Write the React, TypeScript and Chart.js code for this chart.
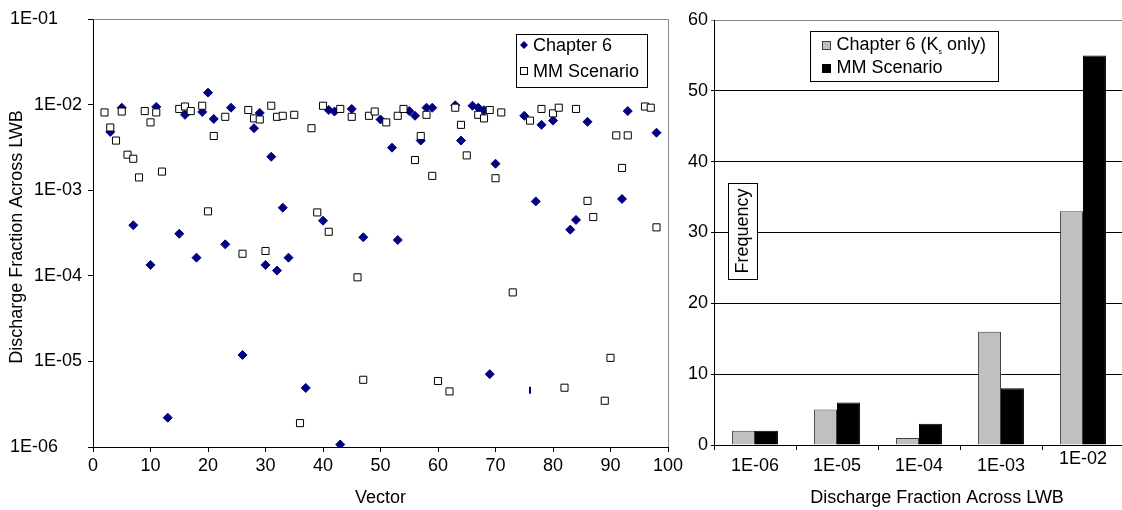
import React, { useEffect, useRef } from 'react';
import { Chart, registerables } from 'chart.js';

Chart.register(...registerables);

// ---------- Left panel: discharge fraction per vector ----------
const ch6Vectors = [3, 5, 7, 10, 11, 13, 15, 16, 18, 19, 20, 21, 23, 24, 26, 28, 29, 30, 31, 32, 33, 34, 37, 40, 41, 42, 43, 45, 47, 50, 52, 53, 55, 56, 57, 58, 59, 63, 64, 66, 67, 68, 69, 70, 75, 77, 78, 80, 83, 84, 86, 92, 93, 98];
const ch6Fractions = [4.8e-3, 9.2e-3, 3.9e-4, 1.34e-4, 9.4e-3, 2.2e-6, 3.1e-4, 7.6e-3, 1.63e-4, 8.2e-3, 1.38e-2, 6.8e-3, 2.33e-4, 9.2e-3, 1.19e-5, 5.3e-3, 8.0e-3, 1.34e-4, 2.46e-3, 1.15e-4, 6.25e-4, 1.63e-4, 4.9e-6, 4.4e-4, 8.65e-3, 8.3e-3, 1.07e-6, 8.9e-3, 2.82e-4, 6.7e-3, 3.14e-3, 2.62e-4, 8.4e-3, 7.4e-3, 3.8e-3, 9.2e-3, 9.2e-3, 9.8e-3, 3.8e-3, 9.7e-3, 9.2e-3, 8.6e-3, 7.1e-6, 2.04e-3, 7.4e-3, 7.4e-4, 5.8e-3, 6.5e-3, 3.46e-4, 4.5e-4, 6.3e-3, 7.9e-4, 8.4e-3, 4.7e-3];
// one Chapter 6 point drawn as a short vertical dash in the original
const ch6DashVectors = [76];
const ch6DashFractions = [4.6e-6];

const mmVectors = [2, 3, 4, 5, 6, 7, 8, 9, 10, 11, 12, 15, 16, 17, 19, 20, 21, 23, 26, 27, 28, 29, 30, 31, 32, 33, 35, 36, 38, 39, 40, 41, 43, 45, 46, 47, 48, 49, 51, 53, 54, 56, 57, 58, 59, 60, 62, 63, 64, 65, 67, 68, 69, 70, 71, 73, 76, 78, 80, 81, 82, 84, 86, 87, 89, 90, 91, 92, 93, 96, 97, 98];
const mmFractions = [8.1e-3, 5.4e-3, 3.8e-3, 8.3e-3, 2.6e-3, 2.33e-3, 1.41e-3, 8.4e-3, 6.2e-3, 8.1e-3, 1.65e-3, 8.9e-3, 9.5e-3, 8.4e-3, 9.7e-3, 5.66e-4, 4.3e-3, 7.2e-3, 1.81e-4, 8.65e-3, 6.9e-3, 6.7e-3, 1.95e-4, 9.7e-3, 7.2e-3, 7.4e-3, 7.6e-3, 1.9e-6, 5.3e-3, 5.5e-4, 9.7e-3, 3.27e-4, 8.9e-3, 7.2e-3, 9.6e-5, 6.1e-6, 7.4e-3, 8.3e-3, 6.2e-3, 7.4e-3, 8.9e-3, 2.25e-3, 4.3e-3, 7.6e-3, 1.47e-3, 5.9e-6, 4.46e-6, 9.2e-3, 5.8e-3, 2.55e-3, 7.6e-3, 6.9e-3, 8.65e-3, 1.38e-3, 8.1e-3, 6.4e-5, 6.5e-3, 8.9e-3, 7.9e-3, 9.2e-3, 4.93e-6, 8.9e-3, 7.5e-4, 4.86e-4, 3.47e-6, 1.1e-5, 4.37e-3, 1.82e-3, 4.37e-3, 9.5e-3, 9.2e-3, 3.68e-4];

const yTickValues = [1e-1, 1e-2, 1e-3, 1e-4, 1e-5, 1e-6];
const yTickLabels = ['1E-01', '1E-02', '1E-03', '1E-04', '1E-05', '1E-06'];
const xTickValues = [0, 10, 20, 30, 40, 50, 60, 70, 80, 90, 100];

const leftXTitle = 'Vector';
const leftYTitle = 'Discharge Fraction Across LWB';
const leftLegend = ['Chapter 6', 'MM Scenario'];

// ---------- Right panel: frequency histogram ----------
const binLabels = ['1E-06', '1E-05', '1E-04', '1E-03', '1E-02'];
const freqCh6 = [2, 5, 1, 16, 33];
const freqMM = [2, 6, 3, 8, 55];
const freqTicks = [0, 10, 20, 30, 40, 50, 60];
const rightXTitle = 'Discharge Fraction Across LWB';
const rightYTitle = 'Frequency';

const FONT = '"Liberation Sans", Arial, sans-serif';
const NAVY = '#000080';

function text(ctx: CanvasRenderingContext2D, s: string, x: number, y: number, align: CanvasTextAlign = 'center', size = 18) {
  ctx.font = `${size}px ${FONT}`;
  ctx.textAlign = align;
  ctx.textBaseline = 'middle';
  ctx.fillStyle = '#000';
  ctx.fillText(s, x, y);
}

const leftDecor = {
  id: 'leftDecor',
  afterDraw(chart: any) {
    const ctx: CanvasRenderingContext2D = chart.ctx;
    const { left, right, top, bottom } = chart.chartArea;
    const xs = chart.scales.x;
    const ys = chart.scales.y;
    ctx.save();
    // gray frame top/right
    ctx.strokeStyle = '#888';
    ctx.lineWidth = 1;
    ctx.beginPath();
    ctx.moveTo(Math.round(left) + 0.5, Math.round(top) + 0.5);
    ctx.lineTo(Math.round(right) + 0.5, Math.round(top) + 0.5);
    ctx.lineTo(Math.round(right) + 0.5, Math.round(bottom));
    ctx.stroke();
    // y tick labels
    yTickValues.forEach((v, i) => {
      const y = ys.getPixelForValue(v);
      if (i === 0 || i === yTickValues.length - 1) text(ctx, yTickLabels[i], 10, y, 'left');
      else text(ctx, yTickLabels[i], 82, y, 'right');
    });
    // x tick labels
    xTickValues.forEach((v) => {
      text(ctx, String(v), xs.getPixelForValue(v), 466, 'center');
    });
    // axis titles
    text(ctx, leftXTitle, (left + right) / 2, 498, 'center');
    ctx.save();
    ctx.translate(17, 237);
    ctx.rotate(-Math.PI / 2);
    text(ctx, leftYTitle, 0, 0, 'center');
    ctx.restore();
    // legend
    ctx.fillStyle = '#fff';
    ctx.fillRect(516, 34, 131, 53);
    ctx.strokeStyle = '#000';
    ctx.strokeRect(516.5, 34.5, 131, 53);
    ctx.fillStyle = NAVY;
    ctx.beginPath();
    ctx.moveTo(524, 41);
    ctx.lineTo(528, 45);
    ctx.lineTo(524, 49);
    ctx.lineTo(520, 45);
    ctx.closePath();
    ctx.fill();
    text(ctx, leftLegend[0], 533, 46, 'left');
    ctx.fillStyle = '#fff';
    ctx.fillRect(520.5, 67.5, 7, 7);
    ctx.strokeStyle = '#000';
    ctx.strokeRect(520.5, 67.5, 7, 7);
    text(ctx, leftLegend[1], 533, 72, 'left');
    ctx.restore();
  },
};

const rightDecor = {
  id: 'rightDecor',
  afterDraw(chart: any) {
    const ctx: CanvasRenderingContext2D = chart.ctx;
    const xs = chart.scales.x;
    const ys = chart.scales.y;
    ctx.save();
    freqTicks.forEach((v) => {
      text(ctx, String(v), 28, ys.getPixelForValue(v), 'right');
    });
    binLabels.forEach((lab, i) => {
      const y = i === binLabels.length - 1 ? 459 : 466;
      text(ctx, lab, xs.getPixelForValue(i), y, 'center');
    });
    text(ctx, rightXTitle, 257, 498, 'center');
    // Frequency box
    ctx.fillStyle = '#fff';
    ctx.fillRect(48, 183, 29, 96);
    ctx.strokeStyle = '#000';
    ctx.lineWidth = 1;
    ctx.strokeRect(48.5, 183.5, 29, 96);
    ctx.save();
    ctx.translate(63, 231);
    ctx.rotate(-Math.PI / 2);
    text(ctx, rightYTitle, 0, 0, 'center');
    ctx.restore();
    // legend
    ctx.fillStyle = '#fff';
    ctx.fillRect(130, 31, 188, 50);
    ctx.strokeStyle = '#000';
    ctx.strokeRect(130.5, 31.5, 188, 50);
    ctx.fillStyle = '#C0C0C0';
    ctx.fillRect(142.5, 41.5, 8, 8);
    ctx.strokeStyle = '#404040';
    ctx.strokeRect(142.5, 41.5, 8, 8);
    ctx.fillStyle = '#000';
    ctx.fillRect(142, 64, 9, 9);
    let x = 156.5;
    ctx.font = `18px ${FONT}`;
    text(ctx, 'Chapter 6 (K', x, 45, 'left');
    ctx.font = `18px ${FONT}`;
    x += ctx.measureText('Chapter 6 (K').width;
    text(ctx, 's', x, 52, 'left', 7);
    ctx.font = `7px ${FONT}`;
    x += ctx.measureText('s').width;
    text(ctx, ' only)', x, 45, 'left');
    text(ctx, 'MM Scenario', 156.5, 68, 'left');
    ctx.restore();
  },
};

export default function App() {
  const leftRef = useRef<HTMLCanvasElement>(null);
  const rightRef = useRef<HTMLCanvasElement>(null);

  useEffect(() => {
    const left = new Chart(leftRef.current as HTMLCanvasElement, {
      type: 'scatter',
      data: {
        datasets: [
          {
            label: 'MM Scenario',
            data: mmVectors.map((x, i) => ({ x, y: mmFractions[i] })),
            pointStyle: 'rect',
            radius: 5,
            backgroundColor: '#fff',
            borderColor: '#000',
            borderWidth: 1,
            order: 0,
          },
          {
            label: 'Chapter 6',
            data: ch6Vectors.map((x, i) => ({ x, y: ch6Fractions[i] })),
            pointStyle: 'rectRot',
            radius: 4.5,
            backgroundColor: NAVY,
            borderColor: NAVY,
            borderWidth: 1,
            order: 1,
          },
          {
            label: 'Chapter 6 dash',
            data: ch6DashVectors.map((x, i) => ({ x, y: ch6DashFractions[i] })),
            pointStyle: 'line',
            rotation: 90,
            radius: 3.5,
            backgroundColor: NAVY,
            borderColor: NAVY,
            borderWidth: 2,
            order: 1,
          },
        ] as any,
      },
      options: {
        animation: false,
        responsive: false,
        events: [],
        layout: { padding: { left: 0, right: 32, top: 19, bottom: 63 } },
        plugins: { legend: { display: false }, tooltip: { enabled: false } },
        scales: {
          x: {
            type: 'linear',
            min: 0,
            max: 100,
            ticks: { display: false, stepSize: 10 },
            grid: { drawOnChartArea: false, drawTicks: true, tickLength: 5, color: '#000' },
            border: { display: true, color: '#000' },
            afterFit: (s: any) => { s.height = 0; },
          },
          y: {
            type: 'logarithmic',
            min: 1e-6,
            max: 1e-1,
            ticks: { display: false },
            afterBuildTicks: (s: any) => { s.ticks = yTickValues.map((v) => ({ value: v })); },
            grid: { drawOnChartArea: false, drawTicks: true, tickLength: 5, color: '#000' },
            border: { display: true, color: '#000' },
            afterFit: (s: any) => { s.width = 93; },
          },
        } as any,
      },
      plugins: [leftDecor],
    });

    const right = new Chart(rightRef.current as HTMLCanvasElement, {
      type: 'bar',
      data: {
        labels: binLabels,
        datasets: [
          { label: 'Chapter 6 (Ks only)', data: freqCh6, backgroundColor: '#C0C0C0', borderColor: '#404040', borderWidth: 1 },
          { label: 'MM Scenario', data: freqMM, backgroundColor: '#000', borderColor: '#000', borderWidth: 1 },
        ],
      },
      options: {
        animation: false,
        responsive: false,
        events: [],
        datasets: { bar: { categoryPercentage: 0.56, barPercentage: 1 } },
        layout: { padding: { left: 0, right: 6, top: 20, bottom: 65 } },
        plugins: { legend: { display: false }, tooltip: { enabled: false } },
        scales: {
          x: {
            ticks: { display: false },
            grid: { offset: true, drawOnChartArea: false, drawTicks: true, tickLength: 5, color: '#000' },
            border: { display: true, color: '#000' },
            afterFit: (s: any) => { s.height = 0; },
          },
          y: {
            min: 0,
            max: 60,
            ticks: { display: false, stepSize: 10 },
            grid: {
              color: (c: any) => (c.tick && c.tick.value === 60 ? '#888' : '#000'),
              drawTicks: true,
              tickLength: 3,
            },
            border: { display: true, color: '#000' },
            afterFit: (s: any) => { s.width = 34; },
          },
        } as any,
      },
      plugins: [rightDecor],
    });

    return () => {
      left.destroy();
      right.destroy();
    };
  }, []);

  return (
    <div style={{ position: 'fixed', left: 0, top: 0, width: 1122, height: 510, overflow: 'hidden', background: '#fff' }}>
      <div style={{ position: 'absolute', left: 0, top: 0, width: 700, height: 510 }}>
        <canvas ref={leftRef} width={700} height={510} />
      </div>
      <div style={{ position: 'absolute', left: 680, top: 0, width: 450, height: 510 }}>
        <canvas ref={rightRef} width={450} height={510} />
      </div>
    </div>
  );
}
